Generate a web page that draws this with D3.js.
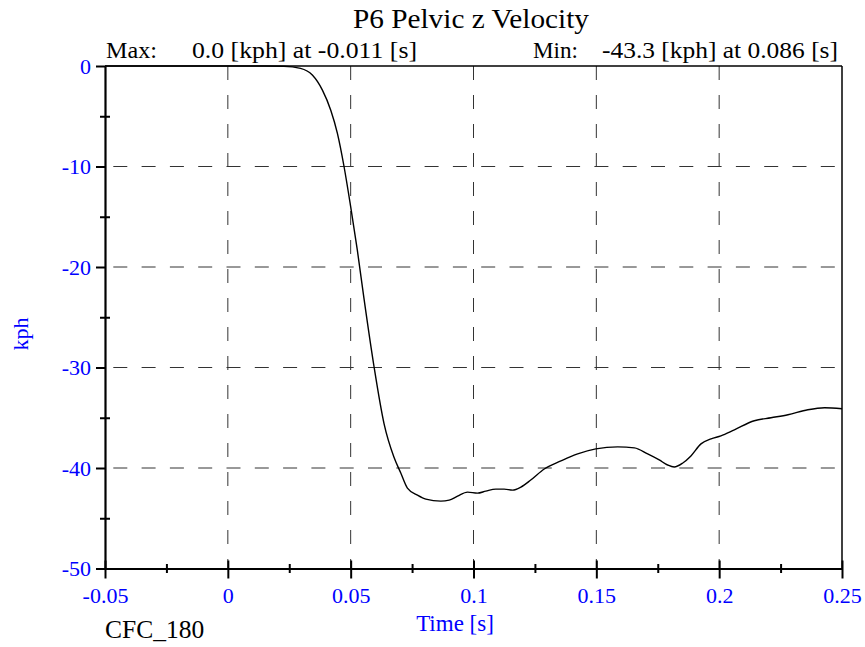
<!DOCTYPE html>
<html>
<head>
<meta charset="utf-8">
<script src="https://cdn.jsdelivr.net/npm/d3@7"></script>
<style>
  body { margin: 0; background: #fff; }
  svg { display: block; }
  text { font-family: "Liberation Serif", "Times New Roman", serif; }
</style>
</head>
<body>
<svg id="chart" width="865" height="647"></svg>
<script>
// ---- data ----
const timeS = [-0.05, -0.011, 0.0, 0.015, 0.0228, 0.0296, 0.0344, 0.0385, 0.0419, 0.0446, 0.0473, 0.05, 0.0527, 0.0554,
  0.0595, 0.0636, 0.0676, 0.0704, 0.0731, 0.0772, 0.0806, 0.0867, 0.0901, 0.0935, 0.0976, 0.1016, 0.105, 0.1091,
  0.1125, 0.1159, 0.1193, 0.1233, 0.1288, 0.1356, 0.1424, 0.1498, 0.1587, 0.1655, 0.1709, 0.1756, 0.179, 0.1817,
  0.1852, 0.1885, 0.1926, 0.1967, 0.2007, 0.2062, 0.2143, 0.2211, 0.228, 0.2361, 0.2429, 0.25];
const velocityKph = [0, 0, 0, 0, -0.02, -0.23, -0.9, -2.4, -4.4, -6.7, -10.0, -14.0, -18.3, -23.1,
  -29.9, -35.6, -38.9, -40.5, -42.0, -42.7, -43.1, -43.3, -43.2, -42.8, -42.4, -42.5, -42.3, -42.1,
  -42.1, -42.2, -41.9, -41.2, -40.1, -39.3, -38.6, -38.1, -37.9, -38.0, -38.6, -39.2, -39.7, -39.9,
  -39.5, -38.8, -37.6, -37.1, -36.8, -36.2, -35.3, -35.0, -34.7, -34.2, -34.0, -34.1];
const xMajorTicks = [-0.05, 0, 0.05, 0.1, 0.15, 0.2, 0.25];
const xMinorTicks = [-0.025, 0.025, 0.075, 0.125, 0.175, 0.225];
const xTickLabels = ["-0.05", "0", "0.05", "0.1", "0.15", "0.2", "0.25"];
const yMajorTicks = [0, -10, -20, -30, -40, -50];
const yMinorTicks = [-5, -15, -25, -35, -45];
const yTickLabels = ["0", "-10", "-20", "-30", "-40", "-50"];
const xGrid = [0, 0.05, 0.1, 0.15, 0.2];
const yGrid = [-10, -20, -30, -40];
const titleText = "P6 Pelvic z Velocity";
const maxLabel = "Max:", maxValue = "0.0 [kph] at -0.011 [s]";
const minLabel = "Min:", minValue = "-43.3 [kph] at 0.086 [s]";
const xTitle = "Time [s]", yTitle = "kph", filterLabel = "CFC_180";

// ---- layout ----
const L = 105, R = 842, T = 66, B = 568.5;
const blue = "#0000ff";
const svg = d3.select("#chart");
const x = d3.scaleLinear().domain([-0.05, 0.25]).range([L, R]);
const y = d3.scaleLinear().domain([-50, 0]).range([B, T]);

// grid
const grid = svg.append("g").attr("stroke", "#333").attr("stroke-width", 1).attr("fill", "none");
grid.selectAll(".hg").data(yGrid).join("line")
  .attr("x1", L).attr("x2", R).attr("y1", d => y(d)).attr("y2", d => y(d))
  .attr("stroke-dasharray", "14,14.3").attr("stroke-dashoffset", 20);
grid.selectAll(".vg").data(xGrid).join("line")
  .attr("y1", T).attr("y2", B).attr("x1", d => x(d)).attr("x2", d => x(d))
  .attr("stroke-dasharray", "14,15");

// frame top/right
svg.append("line").attr("x1", L).attr("x2", R).attr("y1", T).attr("y2", T).attr("stroke", "#000").attr("stroke-width", 1.5);
svg.append("line").attr("x1", R).attr("x2", R).attr("y1", T).attr("y2", B).attr("stroke", "#000").attr("stroke-width", 1.5);

// curve
const line = d3.line().x((d, i) => x(timeS[i])).y(d => y(d)).curve(d3.curveMonotoneX);
svg.append("path").datum(velocityKph).attr("d", line)
  .attr("fill", "none").attr("stroke", "#000").attr("stroke-width", 1.4);

// bottom axis
const xAxisMajor = d3.axisBottom(x).tickValues(xMajorTicks).tickSizeInner(10).tickSizeOuter(0)
  .tickFormat((d, i) => xTickLabels[i]).tickPadding(9);
const gx = svg.append("g").attr("transform", `translate(0,${B})`).call(xAxisMajor);
gx.select(".domain").attr("stroke-width", 2.2);
gx.selectAll(".tick line").attr("stroke-width", 2).attr("y1", -8);
gx.selectAll(".tick text").attr("fill", blue).attr("font-size", 22).attr("font-family", "Liberation Serif, serif");
const gxm = svg.append("g").attr("transform", `translate(0,${B})`)
  .call(d3.axisBottom(x).tickValues(xMinorTicks).tickSize(4.5).tickFormat(""));
gxm.select(".domain").remove();
gxm.selectAll(".tick line").attr("stroke-width", 2).attr("y1", -4.5);

// left axis
const yAxisMajor = d3.axisLeft(y).tickValues(yMajorTicks).tickSizeInner(9).tickSizeOuter(0)
  .tickFormat((d, i) => yTickLabels[i]).tickPadding(5);
const gy = svg.append("g").attr("transform", `translate(${L},0)`).call(yAxisMajor);
gy.select(".domain").attr("stroke-width", 2.2);
gy.selectAll(".tick line").attr("stroke-width", 2);
gy.selectAll(".tick text").attr("fill", blue).attr("font-size", 22).attr("font-family", "Liberation Serif, serif");
const gym = svg.append("g").attr("transform", `translate(${L},0)`)
  .call(d3.axisLeft(y).tickValues(yMinorTicks).tickSize(5).tickFormat(""));
gym.select(".domain").remove();
gym.selectAll(".tick line").attr("stroke-width", 2).attr("x1", 5);

// texts
svg.append("text").attr("x", 353).attr("y", 28)
  .attr("font-size", 27).attr("textLength", 236).attr("lengthAdjust", "spacingAndGlyphs")
  .attr("fill", "#000").text(titleText);
svg.append("text").attr("x", 106).attr("y", 58).attr("font-size", 23)
  .attr("textLength", 51).attr("lengthAdjust", "spacingAndGlyphs").text(maxLabel);
svg.append("text").attr("x", 192).attr("y", 58).attr("font-size", 23)
  .attr("textLength", 225).attr("lengthAdjust", "spacingAndGlyphs").text(maxValue);
svg.append("text").attr("x", 533).attr("y", 58).attr("font-size", 23)
  .attr("textLength", 45).attr("lengthAdjust", "spacingAndGlyphs").text(minLabel);
svg.append("text").attr("x", 602).attr("y", 58).attr("font-size", 23)
  .attr("textLength", 236).attr("lengthAdjust", "spacingAndGlyphs").text(minValue);
svg.append("text").attr("x", 455).attr("y", 631).attr("text-anchor", "middle")
  .attr("font-size", 23).attr("fill", blue).text(xTitle);
svg.append("text").attr("transform", "translate(28,334) rotate(-90)").attr("text-anchor", "middle")
  .attr("font-size", 22).attr("fill", blue).text(yTitle);
svg.append("text").attr("x", 105).attr("y", 638).attr("font-size", 25.5).attr("fill", "#000").text(filterLabel);
</script>
</body>
</html>
